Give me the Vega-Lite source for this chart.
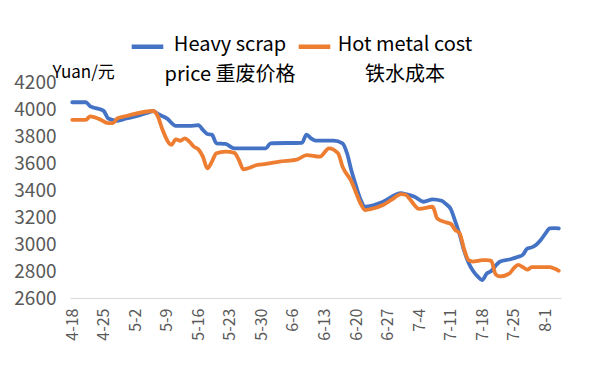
{
  "$schema": "https://vega.github.io/schema/vega-lite/v6.json",
  "width": 491,
  "height": 216,
  "autosize": "none",
  "padding": {"left": 70, "top": 82, "right": 29, "bottom": 67},
  "background": "white",
  "config": {"view": {"stroke": null}, "font": "Noto Sans CJK SC"},
  "datasets": {
    "heavy": [
      {"date": "2022-04-18", "value": 4050}, {"date": "2022-04-21", "value": 4050}, {"date": "2022-04-22", "value": 4020},
      {"date": "2022-04-24", "value": 4000}, {"date": "2022-04-25", "value": 3985}, {"date": "2022-04-26", "value": 3930},
      {"date": "2022-04-28", "value": 3913}, {"date": "2022-04-30", "value": 3930}, {"date": "2022-05-02", "value": 3945},
      {"date": "2022-05-05", "value": 3975}, {"date": "2022-05-06", "value": 3985}, {"date": "2022-05-07", "value": 3963},
      {"date": "2022-05-09", "value": 3930}, {"date": "2022-05-11", "value": 3875}, {"date": "2022-05-14", "value": 3875},
      {"date": "2022-05-16", "value": 3880}, {"date": "2022-05-17", "value": 3845}, {"date": "2022-05-18", "value": 3815},
      {"date": "2022-05-19", "value": 3810}, {"date": "2022-05-20", "value": 3746}, {"date": "2022-05-22", "value": 3741},
      {"date": "2022-05-24", "value": 3709}, {"date": "2022-05-31", "value": 3709}, {"date": "2022-06-01", "value": 3746},
      {"date": "2022-06-08", "value": 3750}, {"date": "2022-06-09", "value": 3810}, {"date": "2022-06-10", "value": 3783},
      {"date": "2022-06-11", "value": 3766}, {"date": "2022-06-15", "value": 3766}, {"date": "2022-06-17", "value": 3746},
      {"date": "2022-06-18", "value": 3672}, {"date": "2022-06-19", "value": 3540}, {"date": "2022-06-20", "value": 3430},
      {"date": "2022-06-21", "value": 3330}, {"date": "2022-06-22", "value": 3276}, {"date": "2022-06-24", "value": 3289},
      {"date": "2022-06-26", "value": 3313}, {"date": "2022-06-30", "value": 3376}, {"date": "2022-07-01", "value": 3370},
      {"date": "2022-07-03", "value": 3350}, {"date": "2022-07-05", "value": 3313}, {"date": "2022-07-07", "value": 3331},
      {"date": "2022-07-09", "value": 3320}, {"date": "2022-07-10", "value": 3295}, {"date": "2022-07-11", "value": 3260},
      {"date": "2022-07-12", "value": 3170}, {"date": "2022-07-13", "value": 3070}, {"date": "2022-07-14", "value": 2950},
      {"date": "2022-07-15", "value": 2860}, {"date": "2022-07-16", "value": 2800}, {"date": "2022-07-17", "value": 2760},
      {"date": "2022-07-18", "value": 2733}, {"date": "2022-07-19", "value": 2780}, {"date": "2022-07-20", "value": 2800},
      {"date": "2022-07-21", "value": 2840}, {"date": "2022-07-22", "value": 2870}, {"date": "2022-07-24", "value": 2885},
      {"date": "2022-07-26", "value": 2905}, {"date": "2022-07-27", "value": 2920}, {"date": "2022-07-28", "value": 2965},
      {"date": "2022-07-29", "value": 2975}, {"date": "2022-07-30", "value": 2995}, {"date": "2022-07-31", "value": 3030},
      {"date": "2022-08-01", "value": 3075}, {"date": "2022-08-02", "value": 3116}, {"date": "2022-08-03", "value": 3118},
      {"date": "2022-08-04", "value": 3115}
    ],
    "hot": [
      {"date": "2022-04-18", "value": 3920}, {"date": "2022-04-21", "value": 3920}, {"date": "2022-04-22", "value": 3945},
      {"date": "2022-04-24", "value": 3925}, {"date": "2022-04-26", "value": 3895}, {"date": "2022-04-27", "value": 3895},
      {"date": "2022-04-28", "value": 3930}, {"date": "2022-04-30", "value": 3948}, {"date": "2022-05-06", "value": 3985},
      {"date": "2022-05-07", "value": 3945}, {"date": "2022-05-08", "value": 3850}, {"date": "2022-05-10", "value": 3735},
      {"date": "2022-05-11", "value": 3775}, {"date": "2022-05-12", "value": 3765}, {"date": "2022-05-13", "value": 3783},
      {"date": "2022-05-14", "value": 3758}, {"date": "2022-05-15", "value": 3721}, {"date": "2022-05-16", "value": 3701},
      {"date": "2022-05-17", "value": 3647}, {"date": "2022-05-18", "value": 3560}, {"date": "2022-05-19", "value": 3610},
      {"date": "2022-05-20", "value": 3672}, {"date": "2022-05-22", "value": 3684}, {"date": "2022-05-24", "value": 3675},
      {"date": "2022-05-25", "value": 3622}, {"date": "2022-05-26", "value": 3553}, {"date": "2022-05-27", "value": 3561},
      {"date": "2022-05-29", "value": 3585}, {"date": "2022-05-31", "value": 3593}, {"date": "2022-06-03", "value": 3610},
      {"date": "2022-06-07", "value": 3627}, {"date": "2022-06-09", "value": 3659}, {"date": "2022-06-12", "value": 3647},
      {"date": "2022-06-14", "value": 3709}, {"date": "2022-06-16", "value": 3672}, {"date": "2022-06-17", "value": 3573},
      {"date": "2022-06-19", "value": 3462}, {"date": "2022-06-20", "value": 3380}, {"date": "2022-06-21", "value": 3300},
      {"date": "2022-06-22", "value": 3252}, {"date": "2022-06-23", "value": 3257}, {"date": "2022-06-26", "value": 3289},
      {"date": "2022-06-28", "value": 3330}, {"date": "2022-06-30", "value": 3370}, {"date": "2022-07-01", "value": 3365},
      {"date": "2022-07-02", "value": 3330}, {"date": "2022-07-04", "value": 3260}, {"date": "2022-07-07", "value": 3276},
      {"date": "2022-07-08", "value": 3190}, {"date": "2022-07-10", "value": 3160}, {"date": "2022-07-11", "value": 3150},
      {"date": "2022-07-12", "value": 3105}, {"date": "2022-07-13", "value": 3080}, {"date": "2022-07-14", "value": 2960},
      {"date": "2022-07-15", "value": 2880}, {"date": "2022-07-16", "value": 2870}, {"date": "2022-07-17", "value": 2875},
      {"date": "2022-07-18", "value": 2880}, {"date": "2022-07-19", "value": 2880}, {"date": "2022-07-20", "value": 2875},
      {"date": "2022-07-21", "value": 2775}, {"date": "2022-07-22", "value": 2760}, {"date": "2022-07-24", "value": 2780},
      {"date": "2022-07-25", "value": 2820}, {"date": "2022-07-26", "value": 2845}, {"date": "2022-07-27", "value": 2830},
      {"date": "2022-07-28", "value": 2810}, {"date": "2022-07-29", "value": 2828}, {"date": "2022-08-01", "value": 2828},
      {"date": "2022-08-02", "value": 2828}, {"date": "2022-08-03", "value": 2818}, {"date": "2022-08-04", "value": 2802}
    ]
  },
  "layer": [
    {
      "data": {"name": "heavy"},
      "transform": [{"calculate": "'Heavy scrap price 重废价格'", "as": "series"}],
      "mark": {"type": "line", "strokeWidth": 3.8, "interpolate": "monotone", "strokeCap": "round", "strokeJoin": "round"},
      "encoding": {
        "x": {"field": "date", "type": "temporal"},
        "y": {"field": "value", "type": "quantitative"},
        "color": {"field": "series", "type": "nominal"}
      }
    },
    {
      "data": {"name": "hot"},
      "transform": [{"calculate": "'Hot metal cost 铁水成本'", "as": "series"}],
      "mark": {"type": "line", "strokeWidth": 3.8, "interpolate": "monotone", "strokeCap": "round", "strokeJoin": "round"},
      "encoding": {
        "x": {"field": "date", "type": "temporal"},
        "y": {"field": "value", "type": "quantitative"},
        "color": {"field": "series", "type": "nominal"}
      }
    }
  ],
  "encoding": {
    "x": {
      "field": "date", "type": "temporal",
      "scale": {"type": "utc", "domain": [
        {"year": 2022, "month": 4, "date": 17, "hours": 12, "utc": true},
        {"year": 2022, "month": 8, "date": 4, "hours": 12, "utc": true}
      ]},
      "axis": {
        "title": null, "format": "%-m-%-d", "grid": false, "ticks": false,
        "domainColor": "#d9d9d9", "domainWidth": 1,
        "labelAngle": 270, "labelFontSize": 16, "labelColor": "#595959", "labelPadding": 10,
        "values": [
          {"year": 2022, "month": 4, "date": 18, "utc": true}, {"year": 2022, "month": 4, "date": 25, "utc": true},
          {"year": 2022, "month": 5, "date": 2, "utc": true}, {"year": 2022, "month": 5, "date": 9, "utc": true},
          {"year": 2022, "month": 5, "date": 16, "utc": true}, {"year": 2022, "month": 5, "date": 23, "utc": true},
          {"year": 2022, "month": 5, "date": 30, "utc": true}, {"year": 2022, "month": 6, "date": 6, "utc": true},
          {"year": 2022, "month": 6, "date": 13, "utc": true}, {"year": 2022, "month": 6, "date": 20, "utc": true},
          {"year": 2022, "month": 6, "date": 27, "utc": true}, {"year": 2022, "month": 7, "date": 4, "utc": true},
          {"year": 2022, "month": 7, "date": 11, "utc": true}, {"year": 2022, "month": 7, "date": 18, "utc": true},
          {"year": 2022, "month": 7, "date": 25, "utc": true}, {"year": 2022, "month": 8, "date": 1, "utc": true}
        ]
      }
    },
    "y": {
      "field": "value", "type": "quantitative",
      "scale": {"domain": [2600, 4200], "nice": false, "zero": false},
      "axis": {
        "title": "Yuan/元", "titleAngle": 0, "titleX": -18, "titleY": -10, "titleAlign": "left", "titleBaseline": "middle",
        "titleFontSize": 17, "titleFontWeight": "normal", "titleColor": "#000000",
        "values": [2600, 2800, 3000, 3200, 3400, 3600, 3800, 4000, 4200], "format": "d",
        "grid": false, "ticks": false, "domain": false,
        "labelFontSize": 19, "labelColor": "#595959", "labelPadding": 14
      }
    },
    "color": {
      "field": "series", "type": "nominal",
      "scale": {"domain": ["Heavy scrap price 重废价格", "Hot metal cost 铁水成本"], "range": ["#4472C4", "#ED7D31"]},
      "legend": {
        "title": null, "orient": "none", "legendX": 59, "legendY": -54, "direction": "horizontal",
        "symbolType": "stroke", "symbolStrokeWidth": 4.5, "symbolSize": 1000,
        "labelFontSize": 20, "labelColor": "#000000", "labelLimit": 300, "labelOffset": 64, "columnPadding": -8,
        "labelBaseline": "top", "labelAlign": "center",
        "labelExpr": "indexof(datum.label, 'Heavy') == 0 ? ['Heavy scrap', 'price 重废价格'] : ['Hot metal cost', '铁水成本']",
        "encode": {"labels": {"update": {"lineHeight": {"value": 30}, "dy": {"value": -12}, "dx": {"signal": "indexof(datum.value, 'Hot') == 0 ? 8 : 0"}}}}
      }
    }
  }
}
